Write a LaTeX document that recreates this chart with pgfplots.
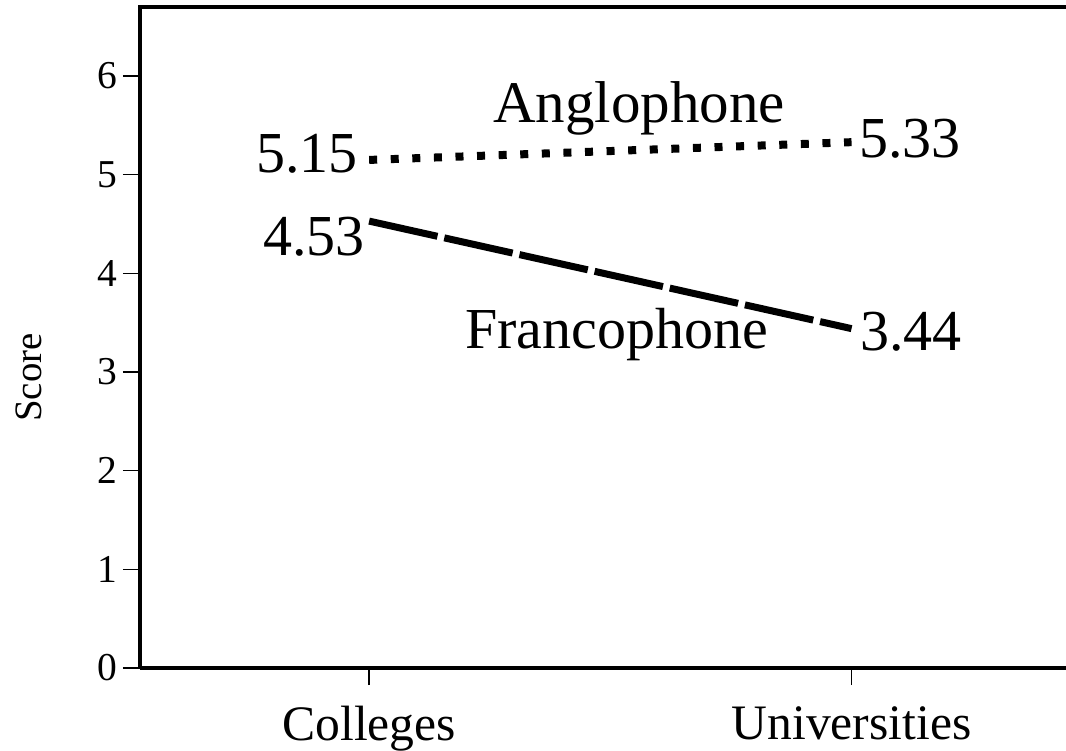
\documentclass[border=0pt]{standalone}
\usepackage{fontspec}
\setmainfont{Liberation Serif}
\usepackage{pgfplots}
\pgfplotsset{compat=1.18}

\begin{document}
\begin{tikzpicture}
\begin{axis}[
    name=ax,
    scale only axis,
    width=475pt, height=330.5pt,
    xmin=-0.475, xmax=1.4943,
    ymin=0, ymax=6.70,
    axis x line*=bottom,
    axis y line*=left,
    axis line style={line width=1.8pt, -},
    xtick={0,1},
    xticklabels={Colleges,Universities},
    ytick={0,1,2,3,4,5,6},
    tick align=outside,
    major tick length=8.5pt,
    tick style={line width=0.75pt, black},
    /pgf/number format/assume math mode=true,
    yticklabel style={font=\fontsize{19.75}{20}\selectfont, inner sep=0pt, xshift=-2.5pt},
    xticklabel style={font=\fontsize{24.8}{26}\selectfont, inner sep=0pt, anchor=north, yshift=-10.5pt},
    clip=false,
]
\addplot[black, line width=4pt, dash pattern=on 4pt off 6.8pt] coordinates {(0,5.15)(1,5.33)};
\addplot[black, line width=3.5pt, dash pattern=on 35pt off 3.5pt] coordinates {(0,4.53)(1,3.44)};

% top border only, the right side is cut off in the original
\draw[line width=1.8pt] ([xshift=-0.9pt]rel axis cs:0,1) -- (rel axis cs:1,1);

\node[anchor=east, inner sep=0pt, xshift=-5.5pt, yshift=3.25pt, font=\fontsize{29}{30}\selectfont] at (axis cs:0,5.15) {5.15};
\node[anchor=north east, inner sep=0pt, xshift=-2pt, yshift=2pt, font=\fontsize{29}{30}\selectfont] at (axis cs:0,4.53) {4.53};
\node[anchor=west, inner sep=0pt, xshift=3.75pt, yshift=1.5pt, font=\fontsize{29}{30}\selectfont] at (axis cs:1,5.33) {5.33};
\node[anchor=west, inner sep=0pt, xshift=4.25pt, yshift=-1.75pt, font=\fontsize{29}{30}\selectfont] at (axis cs:1,3.44) {3.44};
\node[anchor=base west, inner sep=0pt, font=\fontsize{29.5}{30}\selectfont] at (axis cs:0.2565,5.534) {Anglophone};
\node[anchor=base west, inner sep=0pt, font=\fontsize{29}{30}\selectfont] at (axis cs:0.1984,3.243) {Francophone};
\node[rotate=90, anchor=base, inner sep=0pt, font=\fontsize{19.4}{20}\selectfont] at (axis cs:-0.6786,2.944) {Score};
\end{axis}
\pgfresetboundingbox
\path[use as bounding box] ([xshift=-70pt,yshift=-41pt]ax.south west) rectangle ([xshift=463pt,yshift=334pt]ax.south west);
\end{tikzpicture}
\end{document}
